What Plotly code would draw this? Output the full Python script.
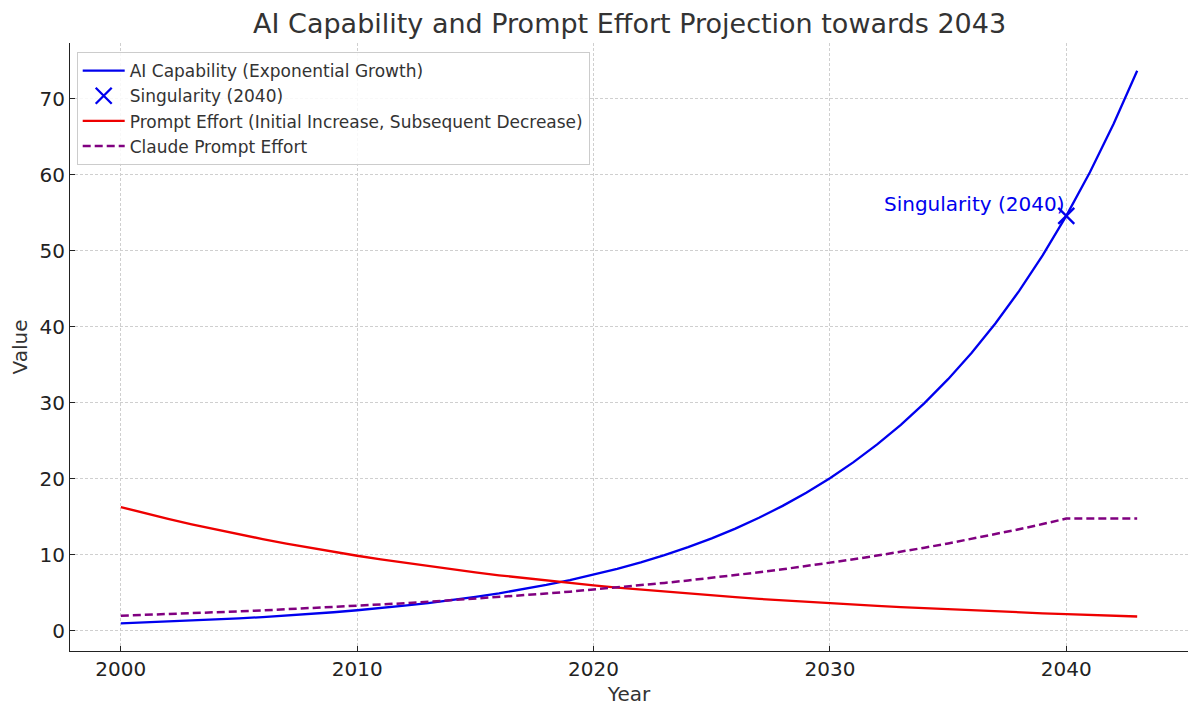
import plotly.graph_objects as go

# yearly values, 2000..2043
years = list(range(2000, 2044))

ai_capability = [
    1.00, 1.11, 1.22, 1.35, 1.49, 1.65, 1.82, 2.01, 2.23, 2.46,
    2.72, 3.00, 3.32, 3.67, 4.06, 4.48, 4.95, 5.47, 6.05, 6.69,
    7.39, 8.17, 9.03, 9.97, 11.02, 12.18, 13.46, 14.88, 16.45, 18.17,
    20.09, 22.20, 24.53, 27.11, 29.96, 33.12, 36.60, 40.45, 44.70, 49.40,
    54.60, 60.34, 66.69, 73.70,
]

prompt_effort = [
    16.30, 15.50, 14.75, 14.03, 13.35, 12.69, 12.08, 11.49, 10.93, 10.39,
    9.89, 9.40, 8.95, 8.51, 8.09, 7.70, 7.32, 6.97, 6.63, 6.30,
    6.00, 5.70, 5.43, 5.16, 4.91, 4.67, 4.44, 4.22, 4.02, 3.82,
    3.64, 3.46, 3.29, 3.13, 2.98, 2.83, 2.69, 2.56, 2.44, 2.32,
    2.21, 2.10, 2.00, 1.90,
]

claude_effort = [
    2.00, 2.10, 2.21, 2.32, 2.44, 2.57, 2.70, 2.84, 2.98, 3.14,
    3.30, 3.47, 3.64, 3.83, 4.03, 4.23, 4.45, 4.68, 4.92, 5.17,
    5.44, 5.72, 6.01, 6.32, 6.64, 6.98, 7.34, 7.71, 8.11, 8.53,
    8.96, 9.42, 9.91, 10.41, 10.95, 11.51, 12.10, 12.72, 13.37, 14.06,
    14.78, 14.78, 14.78, 14.78,
]

singularity_year = [2040]
singularity_value = [54.60]

FONT = "DejaVu Sans"
TXT = "#333333"

fig = go.Figure()
fig.add_trace(go.Scatter(x=years, y=ai_capability, mode="lines",
                         name="AI Capability (Exponential Growth)",
                         line=dict(color="#0000ee", width=2.3)))
fig.add_trace(go.Scatter(x=singularity_year, y=singularity_value, mode="markers",
                         name="Singularity (2040)",
                         marker=dict(symbol="x-thin", size=16, color="#0000ee",
                                     line=dict(color="#0000ee", width=2.3))))
fig.add_trace(go.Scatter(x=years, y=prompt_effort, mode="lines",
                         name="Prompt Effort (Initial Increase, Subsequent Decrease)",
                         line=dict(color="#ee0000", width=2.3)))
fig.add_trace(go.Scatter(x=years, y=claude_effort, mode="lines",
                         name="Claude Prompt Effort",
                         line=dict(color="#800080", width=2.5, dash="8px,4px")))

fig.add_annotation(x=2040, y=54.6, text="Singularity (2040)", showarrow=False,
                   xanchor="right", yanchor="middle", yshift=12,
                   font=dict(family=FONT, size=20, color="#0000ee"))

axis_common = dict(showline=True, linecolor="#222222", linewidth=1.2,
                   ticks="inside", ticklen=5, tickcolor="#222222",
                   showgrid=True, gridcolor="#cfcfcf", griddash="3px,2px", gridwidth=0.9,
                   zeroline=False, mirror=False, automargin=False,
                   tickfont=dict(family=FONT, size=20, color="#222222"))

# page body adds ~8px offset, so margins are trimmed accordingly
fig.update_layout(
    width=1200, height=716,
    paper_bgcolor="white", plot_bgcolor="white",
    margin=dict(l=62, r=20, t=35, b=73),
    title=dict(text="AI Capability and Prompt Effort Projection towards 2043",
               x=0.518, xanchor="center", y=0.978, yanchor="middle",
               font=dict(family=FONT, size=27, color=TXT)),
    xaxis=dict(range=[1997.85, 2045.15], tickvals=[2000, 2010, 2020, 2030, 2040],
               title=dict(text="Year", font=dict(family=FONT, size=20, color=TXT),
                          standoff=6),
               **axis_common),
    yaxis=dict(range=[-2.64, 77.34], tickvals=[0, 10, 20, 30, 40, 50, 60, 70],
               title=dict(text="Value", font=dict(family=FONT, size=20, color=TXT),
                          standoff=8),
               **axis_common),
    legend=dict(x=0.006, y=0.985, xanchor="left", yanchor="top",
                bgcolor="rgba(255,255,255,0.85)", bordercolor="#cccccc", borderwidth=1,
                font=dict(family=FONT, size=17, color=TXT),
                itemwidth=42),
    showlegend=True,
)

fig.write_html("out.html")
